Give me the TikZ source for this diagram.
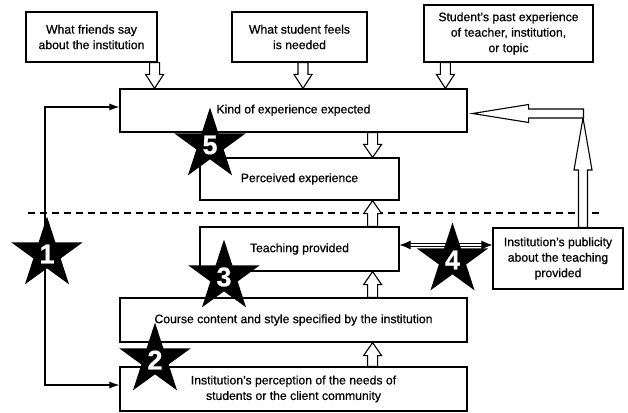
\documentclass[tikz,border=0pt]{standalone}
\usepackage{fontspec}
\setmainfont{Liberation Sans}[FakeBold=0.6]
\usetikzlibrary{shapes.geometric,arrows.meta,calc}
\newcommand\hollowarr[5]{% tail, tip, head length, half shaft, half head
  \coordinate (hA) at #1; \coordinate (hB) at #2;
  \coordinate (hC) at ($(hB)!#3!(hA)$);
  \draw[hollow] ($(hA)!#4!90:(hB)$) -- ($(hC)!#4!-90:(hA)$) -- ($(hC)!#5!-90:(hA)$) -- (hB)
     -- ($(hC)!#5!90:(hA)$) -- ($(hC)!#4!90:(hA)$) -- ($(hA)!#4!-90:(hB)$) -- cycle;}
\begin{document}
\begin{tikzpicture}[x=1pt,y=-1pt,
  box/.style={draw, line width=1.2pt, inner sep=2pt, align=center,
    font=\fontsize{12.2}{15.5}\selectfont},
  hollow/.style={draw, fill=white, line width=1.1pt, line join=miter},
  conn/.style={line width=1.1pt},
  numstar/.style={star, star points=5, star point ratio=2.618, minimum size=75pt,
    fill=black, inner sep=0pt, text=white, font=\fontsize{27}{27}\selectfont\bfseries}]
\useasboundingbox (0,0) rectangle (628,412);
% boxes
\node[box, minimum width=131pt, minimum height=50pt] (a) at (91.5,37) {What friends say\\about the institution};
\node[box, minimum width=135pt, minimum height=50pt] (b) at (299.5,37) {What student feels\\is needed};
\node[box, minimum width=169pt, minimum height=57pt] (c) at (508.5,33.5) {Student’s past experience\\of teacher, institution,\\or topic};
\node[box, minimum width=347pt, minimum height=43pt] (kind) at (293.5,110.5) {\raisebox{3pt}{Kind of experience expected}};
\node[box, minimum width=199pt, minimum height=42pt] (perc) at (299.5,179) {Perceived experience};
\node[box, minimum width=199pt, minimum height=44pt] (teach) at (299.5,249) {Teaching provided};
\node[box, minimum width=347pt, minimum height=44pt] (course) at (293.5,320) {Course content and style specified by the institution};
\node[box, minimum width=347pt, minimum height=44pt] (inst) at (293.5,389) {Institution’s perception of the needs of\\students or the client community};
\node[box, minimum width=130pt, minimum height=61pt] (pub) at (558,258.5) {Institution’s publicity\\about the teaching\\provided};
% dashed divider
\coordinate (dl) at (28,213);
\coordinate (dr) at (603,213);
\draw[line width=1.1pt, dash pattern=on 7pt off 5pt] (dl) -- (dr);
% small hollow arrows
\coordinate (colx) at ([xshift=-27pt]perc.north east);
\hollowarr{([xshift=-3pt]a.south east)}{(hA |- kind.north)}{14pt}{5pt}{9pt}
\hollowarr{([xshift=3.5pt]b.south)}{(hA |- kind.north)}{14pt}{5pt}{9pt}
\hollowarr{([xshift=22pt]c.south west)}{(hA |- kind.north)}{14pt}{5pt}{9pt}
\hollowarr{(colx |- kind.south)}{(colx |- perc.north)}{13pt}{5pt}{9pt}
\hollowarr{(colx |- teach.north)}{(colx |- perc.south)}{13pt}{5pt}{9pt}
\hollowarr{(colx |- course.north)}{(colx |- teach.south)}{13pt}{5pt}{9pt}
\hollowarr{(colx |- inst.north)}{(colx |- course.south)}{13pt}{5pt}{9pt}
% big hollow arrows from publicity to expectations
\coordinate (corner) at (583,113.5);
\hollowarr{(corner |- pub.north)}{([yshift=-4.5pt]corner)}{52pt}{4.5pt}{9pt}
\hollowarr{([xshift=0.5pt]corner)}{([xshift=5pt]kind.east |- corner)}{56pt}{4.5pt}{9pt}
% left feedback connector
\coordinate (ltop) at (45,107);
\coordinate (lbot) at (45,385);
\draw[conn, {Latex[length=10pt,width=7pt]}-{Latex[length=10pt,width=7pt]}]
  (kind.west |- ltop) -- (ltop) -- (lbot) -- (inst.west |- lbot);
% teaching <-> publicity
\coordinate (dy) at ([yshift=4pt]teach.east);
\draw[double, double distance=2.5pt, line width=0.9pt,
  {Latex[length=11pt,width=9pt]}-{Latex[length=11pt,width=9pt]}] (dy) -- (pub.west |- dy);
% stars
\node[numstar] (s1) at (47,254) {1};
\node[numstar] (s2) at (155,360) {2};
\node[numstar] (s3) at (224,277) {3};
\node[numstar] (s4) at (452.5,260) {4};
\node[numstar] (s5) at (210,145) {5};
\end{tikzpicture}
\end{document}
